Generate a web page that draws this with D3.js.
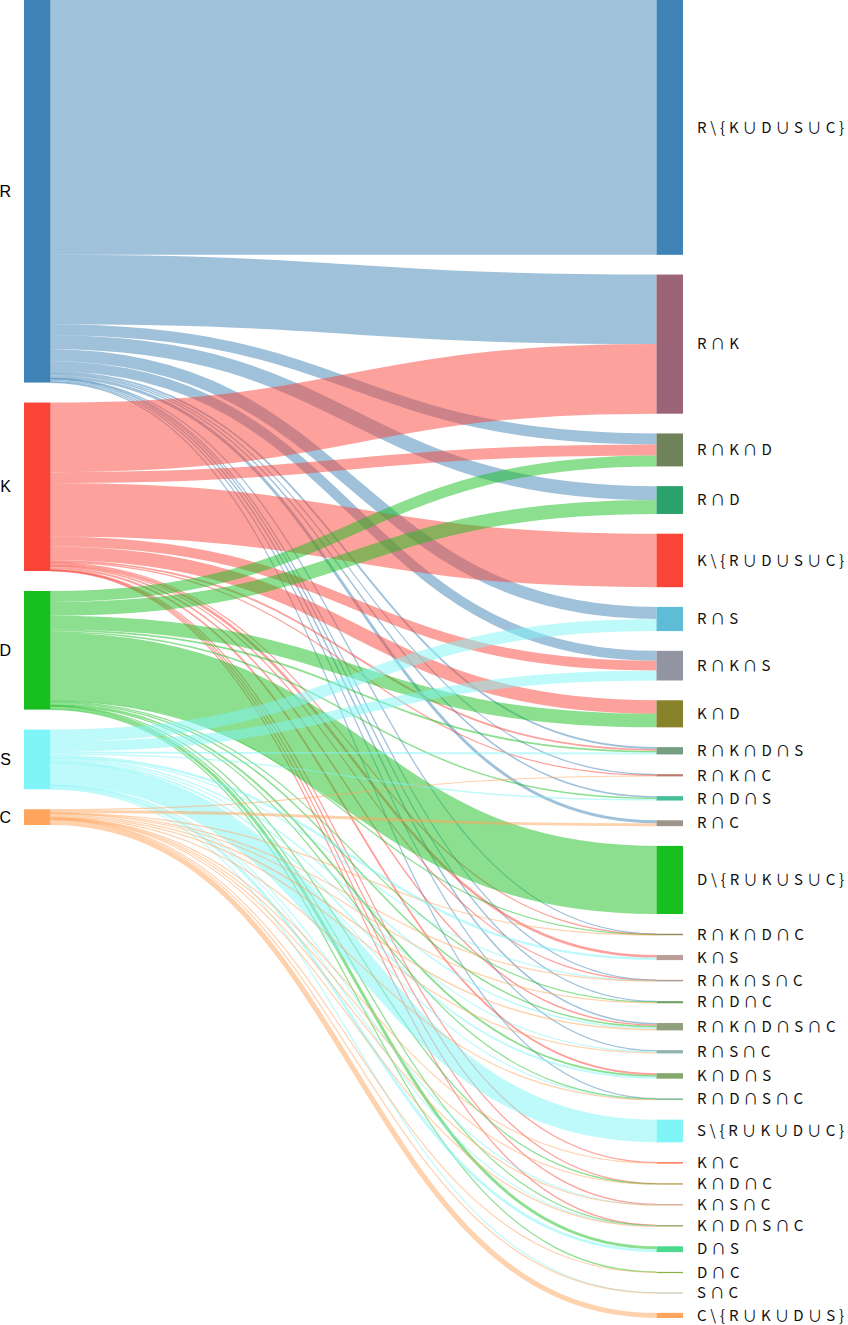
<!DOCTYPE html>
<html>
<head>
<meta charset="utf-8">
<script src="https://cdn.jsdelivr.net/npm/d3@7"></script>
<style>
  body { margin: 0; background: #fff; }
  .set-label { font-family: "Liberation Sans", Arial, sans-serif; font-size: 16px; fill: #000; }
  .int-label { font-family: "Noto Sans CJK JP", sans-serif; font-size: 15px; fill: #111; letter-spacing: 3.8px; }
</style>
</head>
<body>
<svg class="chart"></svg>
<script>
  // sets (left column) and their colours
  var sets = ["R", "K", "D", "S", "C"];
  var setColors = ["#3f83b6", "#f94437", "#17bf1f", "#7ff5f8", "#ffa55e"];

  // intersections (right column), top to bottom
  var intersectionLabels = [
    "R\\{K∪D∪S∪C}", "R∩K", "R∩K∩D", "R∩D", "K\\{R∪D∪S∪C}", "R∩S", "R∩K∩S", "K∩D",
    "R∩K∩D∩S", "R∩K∩C", "R∩D∩S", "R∩C", "D\\{R∪K∪S∪C}", "R∩K∩D∩C", "K∩S", "R∩K∩S∩C",
    "R∩D∩C", "R∩K∩D∩S∩C", "R∩S∩C", "K∩D∩S", "R∩D∩S∩C", "S\\{R∪K∪D∪C}", "K∩C", "K∩D∩C",
    "K∩S∩C", "K∩D∩S∩C", "D∩S", "D∩C", "S∩C", "C\\{R∪K∪D∪S}"
  ];
  var intersectionSizes = [
    696, 190, 30, 38, 146, 33, 27, 37,
    5, 2, 4, 8, 186, 1, 7, 1,
    2, 4, 3, 5, 1, 62, 2, 1,
    1, 1, 8, 1, 1, 14
  ];

  var width = 848,
      height = 1325,
      leftHeight = 825,
      rightHeight = 1318,
      nodeWidth = 26.5,
      pad = 20,
      leftX = 24,
      rightX = 656.5;

  var chart = d3.select(".chart")
      .attr("width", width)
      .attr("height", height);

  function members(label) {
    if (label.indexOf("\\") >= 0) return [label[0]];
    return label.split("∩");
  }

  function mix(cols) {
    var rgb = cols.map(function(c) { return d3.rgb(c); });
    return d3.rgb(d3.mean(rgb, function(c) { return c.r; }),
                  d3.mean(rgb, function(c) { return c.g; }),
                  d3.mean(rgb, function(c) { return c.b; })).formatHex();
  }

  var color = d3.scaleOrdinal().domain(sets).range(setColors);

  // nodes
  var left = sets.map(function(s) { return { name: s, value: 0, color: color(s) }; });
  var right = intersectionLabels.map(function(l, i) {
    var m = members(l);
    return { name: l, members: m, size: intersectionSizes[i], value: intersectionSizes[i] * m.length,
             color: mix(m.map(color)) };
  });

  var links = [];
  right.forEach(function(t) {
    t.members.forEach(function(s) {
      var src = left[sets.indexOf(s)];
      src.value += t.size;
      links.push({ source: src, target: t, value: t.size });
    });
  });

  var total = d3.sum(left, function(d) { return d.value; });
  var y = d3.scaleLinear()
      .domain([0, total])
      .range([0, leftHeight - (left.length - 1) * pad]);

  function stack(nodes, gap) {
    var pos = 0;
    nodes.forEach(function(n) {
      n.y0 = pos;
      n.y1 = pos + y(n.value);
      pos = n.y1 + gap;
    });
  }
  stack(left, pad);
  stack(right, (rightHeight - y(total)) / (right.length - 1));

  // link end points
  links.forEach(function(l) { l.width = y(l.value); });
  left.forEach(function(n) {
    var off = n.y0;
    links.filter(function(l) { return l.source === n; }).forEach(function(l) {
      l.y0 = off + l.width / 2;
      off += l.width;
    });
  });
  right.forEach(function(n) {
    var off = n.y0;
    links.filter(function(l) { return l.target === n; }).forEach(function(l) {
      l.y1 = off + l.width / 2;
      off += l.width;
    });
  });

  var linkPath = d3.linkHorizontal()
      .source(function(d) { return [leftX + nodeWidth, d.y0]; })
      .target(function(d) { return [rightX, d.y1]; });

  var bySource = links.slice().sort(function(a, b) { return left.indexOf(a.source) - left.indexOf(b.source); });

  chart.append("g")
      .attr("fill", "none")
    .selectAll("path")
      .data(bySource)
    .enter().append("path")
      .attr("d", linkPath)
      .attr("stroke", function(d) { return d.source.color; })
      .attr("stroke-opacity", 0.5)
      .attr("stroke-width", function(d) { return Math.max(1.2, d.width); });

  chart.append("g")
    .selectAll("rect")
      .data(left)
    .enter().append("rect")
      .attr("x", leftX)
      .attr("y", function(d) { return d.y0; })
      .attr("width", nodeWidth)
      .attr("height", function(d) { return d.y1 - d.y0; })
      .attr("fill", function(d) { return d.color; });

  chart.append("g")
    .selectAll("rect")
      .data(right)
    .enter().append("rect")
      .attr("x", rightX)
      .attr("y", function(d) { return d.y0; })
      .attr("width", nodeWidth)
      .attr("height", function(d) { return Math.max(1.2, d.y1 - d.y0); })
      .attr("fill", function(d) { return d.color; });

  chart.append("g")
    .selectAll("text")
      .data(left)
    .enter().append("text")
      .attr("class", "set-label")
      .attr("x", leftX - 13)
      .attr("y", function(d) { return (d.y0 + d.y1) / 2; })
      .attr("dy", ".35em")
      .attr("text-anchor", "end")
      .text(function(d) { return d.name; });

  chart.append("g")
    .selectAll("text")
      .data(right)
    .enter().append("text")
      .attr("class", "int-label")
      .attr("x", rightX + nodeWidth + 14)
      .attr("y", function(d) { return (d.y0 + d.y1) / 2; })
      .attr("dy", ".35em")
      .text(function(d) { return d.name; });
</script>
</body>
</html>
